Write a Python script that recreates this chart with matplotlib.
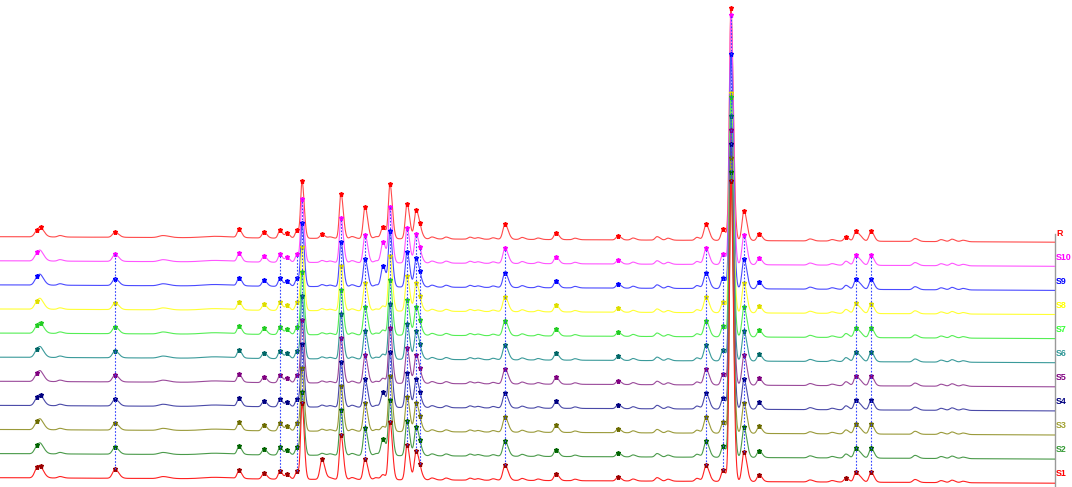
import numpy as np
import matplotlib
matplotlib.use("Agg")
import matplotlib.pyplot as plt

# ---------------- data ----------------
samples = ["S1", "S2", "S3", "S4", "S5", "S6", "S7", "S8", "S9", "S10", "R"]

line_colors = ["#FF2020", "#4A9A4A", "#9A9A3A", "#4A4AA8", "#9A4A9A", "#3A9A9A",
               "#55EE55", "#FFFF33", "#4A4AFF", "#FF55FF", "#FF4A4A"]
marker_colors = ["#9A0000", "#006400", "#6B6B00", "#000080", "#800080", "#006666",
                 "#22CC22", "#DDDD00", "#0000FF", "#FF00FF", "#FF0000"]
label_colors = ["#FF0000", "#339933", "#A0A030", "#000080", "#800080", "#339999",
                "#33FF33", "#FFFF00", "#0000FF", "#FF00FF", "#FF0000"]

# retention time (min), peak width (sigma, min), typical peak height (signal units)
peak_rt = [2.10, 2.33, 3.41, 6.54, 9.27, 12.23, 13.59, 15.01, 15.92, 16.32,
           16.89, 17.18, 18.31, 18.77, 19.39, 20.02, 20.76, 21.38, 21.78, 22.18,
           23.15, 23.66, 23.89, 24.57, 25.37, 26.73, 27.19, 28.04, 28.72, 29.69,
           30.60, 31.62, 32.70, 35.15, 36.00, 37.37, 37.99, 39.64, 40.15, 41.12,
           41.57, 42.31, 43.17, 46.07, 47.32, 48.11, 48.68, 48.97, 49.54, 52.04,
           53.52, 54.14, 54.77]
peak_sigma = [0.14, 0.14, 0.12, 0.14, 0.23, 0.68, 0.10, 0.11, 0.10, 0.10,
              0.10, 0.08, 0.11, 0.11, 0.09, 0.11, 0.10, 0.11, 0.11, 0.09,
              0.10, 0.10, 0.10, 0.11, 0.11, 0.11, 0.11, 0.11, 0.12, 0.11,
              0.11, 0.11, 0.11, 0.11, 0.11, 0.11, 0.11, 0.11, 0.12, 0.11,
              0.09, 0.11, 0.11, 0.12, 0.12, 0.11, 0.11, 0.10, 0.11, 0.12,
              0.12, 0.12, 0.12]
peak_height = [7.0, 6.5, 1.5, 7.0, 2.0, 1.5, 8.0, 6.0, 8.0, 5.0,
               8.0, 62.0, 2.0, 1.5, 45.0, 2.0, 28.0, 2.0, 5.0, 55.0,
               35.0, 28.0, 7.0, 2.0, 2.0, 2.0, 1.5, 1.5, 15.0, 2.0,
               1.5, 7.0, 1.5, 4.0, 2.0, 3.5, 2.0, 3.0, 16.0, 11.0,
               230.0, 30.0, 7.0, 2.0, 1.5, 4.0, 10.0, 3.0, 10.0, 3.0,
               2.0, 2.5, 1.5]

# sample-specific peak heights (retention time -> height)
height_overrides = {
    "S1": {2.10: 9.0, 6.54: 9.0, 17.18: 75.0, 18.31: 20.0, 20.76: 21.0,
           22.18: 58.0, 41.57: 300.0},
    "S2": {21.78: 17.0, 41.57: 285.0},
    "S3": {41.57: 275.0},
    "S4": {21.78: 15.0, 41.57: 265.0},
    "S5": {41.57: 255.0},
    "S6": {41.57: 245.0},
    "S7": {41.57: 240.0},
    "S8": {41.57: 220.0},
    "S9": {21.78: 21.0, 41.57: 235.0},
    "S10": {21.78: 21.0, 41.57: 250.0},
    "R": {2.10: 5.5, 6.54: 5.0, 17.18: 56.0, 18.31: 4.0, 20.76: 32.0,
          21.78: 12.0, 22.18: 54.0, 41.57: 232.0},
}

# peaks marked on every trace, extra marks per trace
marked_rt = [2.10, 6.54, 13.59, 15.01, 15.92, 16.32, 16.89, 17.18, 19.39, 20.76,
             22.18, 23.15, 23.66, 23.89, 28.72, 31.62, 35.15, 40.15, 41.12,
             41.57, 42.31, 43.17, 48.68, 49.54]
extra_marks = {"S1": [2.33, 18.31, 48.11], "S2": [21.78], "S4": [2.33, 21.78],
               "S7": [2.33], "S9": [21.78], "S10": [21.78],
               "R": [2.33, 18.31, 21.78, 48.11]}

# common peaks linked across S1..S10
linked_rt = [6.54, 15.92, 16.89, 17.18, 19.39, 20.76, 22.18, 23.15, 23.66, 23.89,
             28.72, 40.15, 41.12, 41.57, 42.31, 48.68, 49.54]

trace_step = 24.1      # vertical offset between traces
first_offset = 9.3
drift = 5.5            # baseline drift over the run

# ---------------- figure ----------------
W, H = 1072, 487
fig = plt.figure(figsize=(W / 100, H / 100), dpi=100)
ax = fig.add_axes([0, 0, 1055 / W, 1])
t = np.linspace(0, 60, 6000)
t_end = 60.0


def signal(heights):
    y = np.zeros_like(t)
    for rt, s, h in zip(peak_rt, peak_sigma, heights):
        sig = np.where(t < rt, s, 1.5 * s)
        y += h * np.exp(-0.5 * ((t - rt) / sig) ** 2)
    return y


traces = {}
for i, name in enumerate(samples):
    ov = height_overrides.get(name, {})
    heights = [ov.get(rt, h) for rt, h in zip(peak_rt, peak_height)]
    base = first_offset + i * trace_step - drift * t / t_end
    y = base + signal(heights)
    traces[name] = y
    z = 20 - i
    ax.plot(t, y, color=line_colors[i], lw=0.8, zorder=z)
    mk = marked_rt + extra_marks.get(name, [])
    ax.plot(mk, np.interp(mk, t, y), ls="none", marker="*", ms=3.6,
            color=marker_colors[i], zorder=z + 0.5)
    ax.text(1.001, first_offset + i * trace_step - drift + 9.2, name,
            transform=ax.get_yaxis_transform(), color=label_colors[i],
            fontsize=6.4, fontweight="bold", family="Liberation Sans",
            va="center", ha="left", clip_on=False)

# dotted links between matching peaks of S1..S10
for rt in linked_rt:
    y0 = np.interp(rt, t, traces["S1"])
    y1 = np.interp(rt, t, traces["S10"])
    ax.plot([rt, rt], [y0, y1], color="#3344FF", lw=0.8,
            ls=(0, (1.5, 1.5)), zorder=30)

ax.set_xlim(0, 60)
ax.set_ylim(0, H)
for s in ["top", "left", "bottom"]:
    ax.spines[s].set_visible(False)
ax.spines["right"].set_color("#999999")
ax.spines["right"].set_linewidth(1.0)
ax.spines["right"].set_bounds(0, first_offset + 10 * trace_step + 3)
ax.set_xticks([])
ax.set_yticks([])
ax.patch.set_alpha(0)

fig.savefig("out.png", dpi=100)
